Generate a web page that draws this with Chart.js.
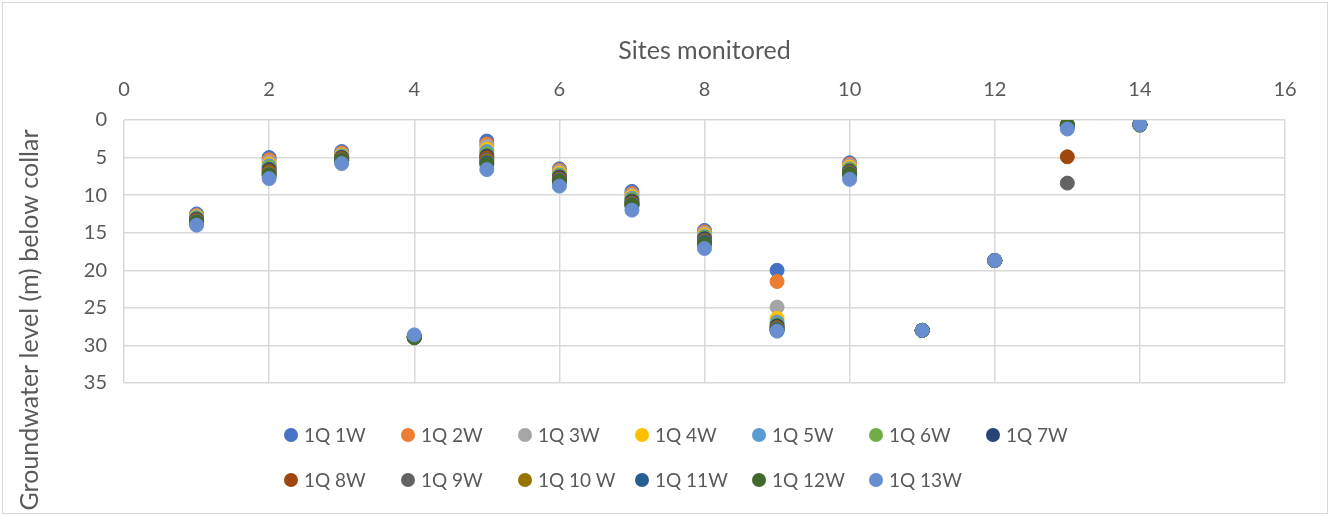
<!DOCTYPE html>
<html>
<head>
<meta charset="utf-8">
<script src="https://cdn.jsdelivr.net/npm/chart.js@4.4.1/dist/chart.umd.min.js"></script>
<style>
  html, body { margin: 0; padding: 0; background: #fff; }
  #wrap { position: relative; width: 1332px; height: 515px; font-family: Lato, "Liberation Sans", sans-serif; }
  #frame { position: absolute; left: 2px; top: 2px; width: 1324px; height: 510px; border: 1px solid #d9d9d9; pointer-events: none; }
  #legend { position: absolute; left: 284px; top: 412px; color: #595959; font-size: 19px;
            display: grid; grid-template-columns: repeat(7, 117px); grid-auto-rows: 45px; }
  .item { display: flex; align-items: center; white-space: nowrap; }
  .dot { width: 14px; height: 14px; border-radius: 50%; margin-right: 6px; }
</style>
</head>
<body>
<div id="wrap">
  <canvas id="chart" width="1332" height="515"></canvas>
  <div id="frame"></div>
  <div id="legend"></div>
</div>
<script>
// sitios (eje X) y niveles por semana (m bajo el collar)
const sites = [1, 2, 3, 4, 5, 6, 7, 8, 9, 10, 11, 12, 13, 14];
const xTicks = [0, 2, 4, 6, 8, 10, 12, 14, 16];
const yTicks = [0, 5, 10, 15, 20, 25, 30, 35];

const seriesNames = ['1Q 1W', '1Q 2W', '1Q 3W', '1Q 4W', '1Q 5W', '1Q 6W', '1Q 7W',
                     '1Q 8W', '1Q 9W', '1Q 10 W', '1Q 11W', '1Q 12W', '1Q 13W'];
const seriesColors = ['#4472C4', '#ED7D31', '#A5A5A5', '#FFC000', '#5B9BD5', '#70AD47', '#264478',
                      '#9E480E', '#636363', '#997300', '#255E91', '#43682B', '#698ED0'];

const w1  = [12.5, 5.0, 4.2, 28.8, 2.8, 6.5, 9.5, 14.7, 20.0, 5.7, 28.0, 18.7, 0.7, 0.6];
const w2  = [12.7, 5.3, 4.4, 28.8, 3.2, 6.7, 9.8, 14.9, 21.5, 5.9, 28.0, 18.7, 0.7, 0.6];
const w3  = [12.8, 5.6, 4.6, 28.8, 3.5, 6.9, 10.0, 15.1, 24.9, 6.1, 28.0, 18.7, 0.7, 0.6];
const w4  = [12.9, 5.9, 4.7, 28.8, 3.9, 7.1, 10.2, 15.3, 26.4, 6.3, 28.0, 18.7, 0.7, 0.6];
const w5  = [13.0, 6.1, 4.8, 28.8, 4.2, 7.3, 10.4, 15.5, 26.9, 6.5, 28.0, 18.7, 0.7, 0.6];
const w6  = [13.1, 6.3, 4.9, 28.8, 4.5, 7.4, 10.6, 15.6, 27.2, 6.6, 28.0, 18.7, 0.6, 0.6];
const w7  = [13.2, 6.6, 5.0, 28.9, 4.8, 7.6, 10.8, 15.8, 27.4, 6.8, 28.0, 18.7, 0.7, 0.6];
const w8  = [13.3, 6.8, 5.1, 28.9, 5.0, 7.8, 11.0, 16.0, 27.6, 6.9, 28.0, 18.7, 4.9, 0.6];
const w9  = [13.4, 7.0, 5.2, 28.9, 5.3, 7.9, 11.1, 16.1, 27.7, 7.0, 28.0, 18.7, 8.4, 0.6];
const w10 = [13.5, 7.1, 5.3, 28.9, 5.5, 8.0, 11.2, 16.2, 27.8, 7.1, 28.0, 18.7, 0.8, 0.6];
const w11 = [13.6, 7.3, 5.4, 28.9, 5.7, 8.1, 11.3, 16.3, 27.9, 7.2, 28.0, 18.7, 0.8, 0.6];
const w12 = [13.7, 7.4, 5.4, 29.0, 5.9, 8.2, 11.4, 16.5, 28.0, 7.3, 28.0, 18.7, 0.6, 0.7];
const w13 = [14.0, 7.8, 5.8, 28.6, 6.6, 8.8, 12.0, 17.1, 28.1, 7.9, 28.0, 18.7, 1.2, 0.6];
const seriesValues = [w1, w2, w3, w4, w5, w6, w7, w8, w9, w10, w11, w12, w13];

const textColor = '#595959';
const gridColor = '#D9D9D9';
const fontFam = 'Lato, "Liberation Sans", sans-serif';

// título del eje Y dibujado a mano (Excel lo centra distinto)
const yTitlePlugin = {
    id: 'yTitle',
    afterDraw(chart) {
        const ctx = chart.ctx;
        ctx.save();
        ctx.translate(30, 320);
        ctx.rotate(-Math.PI / 2);
        ctx.font = '25px ' + fontFam;
        ctx.fillStyle = textColor;
        ctx.textAlign = 'center';
        ctx.textBaseline = 'middle';
        ctx.fillText('Groundwater level (m) below collar', 0, 0);
        ctx.restore();
    }
};

const datasets = seriesNames.map((name, i) => ({
    label: name,
    data: sites.map((s, j) => ({ x: s, y: seriesValues[i][j] })),
    backgroundColor: seriesColors[i],
    borderColor: seriesColors[i],
    borderWidth: 1,
    pointRadius: 7,
    pointHoverRadius: 7,
    order: seriesNames.length - i   // la última semana queda encima
}));

new Chart(document.getElementById('chart'), {
    type: 'scatter',
    data: { datasets },
    options: {
        responsive: false,
        animation: false,
        layout: { padding: { left: 0, top: 0, right: 47, bottom: 132 } },
        plugins: { legend: { display: false }, tooltip: { enabled: false } },
        scales: {
            x: {
                type: 'linear',
                position: 'top',
                min: 0, max: 16,
                afterBuildTicks: s => { s.ticks = xTicks.map(v => ({ value: v })); },
                afterFit: s => { s.height = 120; },
                ticks: { color: textColor, font: { family: fontFam, size: 20 }, padding: 18 },
                grid: { color: gridColor, lineWidth: 1.5, drawTicks: false },
                border: { display: false },
                title: { display: true, text: 'Sites monitored', color: textColor,
                         font: { family: fontFam, size: 25 }, padding: { top: 36, bottom: 0 } }
            },
            y: {
                reverse: true,
                min: 0, max: 35,
                afterBuildTicks: s => { s.ticks = yTicks.map(v => ({ value: v })); },
                afterFit: s => { s.width = 124; },
                ticks: { color: textColor, font: { family: fontFam, size: 20 }, padding: 17 },
                grid: { color: gridColor, lineWidth: 1.5, drawTicks: false },
                border: { display: false }
            }
        }
    },
    plugins: [yTitlePlugin]
});

// leyenda en HTML: columnas iguales como la de Excel (7 + 6)
const legend = document.getElementById('legend');
seriesNames.forEach((name, i) => {
    const item = document.createElement('div');
    item.className = 'item';
    item.innerHTML = `<span class="dot" style="background:${seriesColors[i]}"></span><span>${name}</span>`;
    legend.appendChild(item);
});
</script>
</body>
</html>
